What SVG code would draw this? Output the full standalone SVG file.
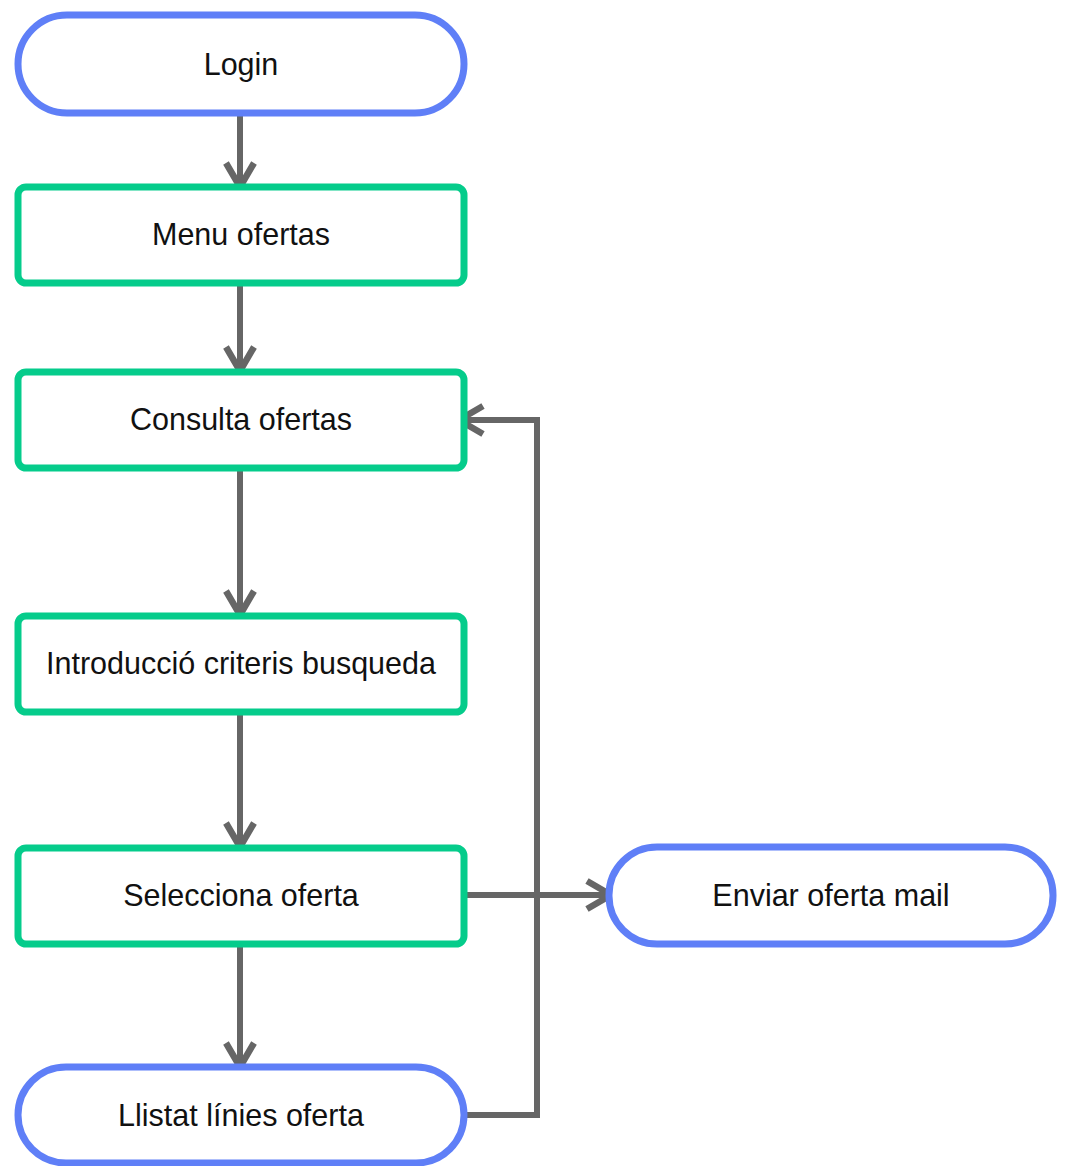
<svg xmlns="http://www.w3.org/2000/svg" width="1067" height="1166" viewBox="0 0 1067 1166">
  <style>
    .term { fill: #ffffff; stroke: #5f7ff7; stroke-width: 7; }
    .proc { fill: #ffffff; stroke: #05cc8b; stroke-width: 7; }
    .label { font-family: "Liberation Sans", Arial, sans-serif; font-size: 30.5px; fill: #111111; text-anchor: middle; dominant-baseline: central; }
    .edge { fill: none; stroke: #666666; stroke-width: 6; }
  </style>
  <defs>
    <marker id="chevron" markerUnits="userSpaceOnUse" markerWidth="40" markerHeight="40" refX="28" refY="20" orient="auto">
      <polyline points="4,6 28,20 4,34" fill="none" stroke="#666666" stroke-width="6.5" stroke-linejoin="miter" stroke-linecap="butt"/>
    </marker>
  </defs>

  <g id="connectors">
    <line class="edge" x1="240" y1="115" x2="240" y2="187" marker-end="url(#chevron)"/>
    <line class="edge" x1="240" y1="285" x2="240" y2="371" marker-end="url(#chevron)"/>
    <line class="edge" x1="240" y1="470" x2="240" y2="615" marker-end="url(#chevron)"/>
    <line class="edge" x1="240" y1="714" x2="240" y2="847" marker-end="url(#chevron)"/>
    <line class="edge" x1="240" y1="946" x2="240" y2="1067" marker-end="url(#chevron)"/>
    <polyline class="edge" points="466,1115 537,1115 537,420 459,420" marker-end="url(#chevron)"/>
    <line class="edge" x1="466" y1="895" x2="611" y2="895" marker-end="url(#chevron)"/>
  </g>

  <g id="node-login">
    <rect class="term" x="18" y="15" width="446" height="98" rx="49" ry="49"/>
    <text class="label" x="241" y="64">Login</text>
  </g>
  <g id="node-menu-ofertas">
    <rect class="proc" x="18" y="187" width="446" height="96" rx="8" ry="8"/>
    <text class="label" x="241" y="234">Menu ofertas</text>
  </g>
  <g id="node-consulta-ofertas">
    <rect class="proc" x="18" y="372" width="446" height="96" rx="8" ry="8"/>
    <text class="label" x="241" y="419">Consulta ofertas</text>
  </g>
  <g id="node-introduccio">
    <rect class="proc" x="18" y="616" width="446" height="96" rx="8" ry="8"/>
    <text class="label" x="241" y="663">Introducció criteris busqueda</text>
  </g>
  <g id="node-selecciona-oferta">
    <rect class="proc" x="18" y="848" width="446" height="96" rx="8" ry="8"/>
    <text class="label" x="241" y="895">Selecciona oferta</text>
  </g>
  <g id="node-llistat">
    <rect class="term" x="18" y="1067" width="446" height="96" rx="48" ry="48"/>
    <text class="label" x="241" y="1115">Llistat línies oferta</text>
  </g>
  <g id="node-enviar">
    <rect class="term" x="609" y="847" width="444" height="97" rx="48" ry="48"/>
    <text class="label" x="831" y="895">Enviar oferta mail</text>
  </g>
</svg>
